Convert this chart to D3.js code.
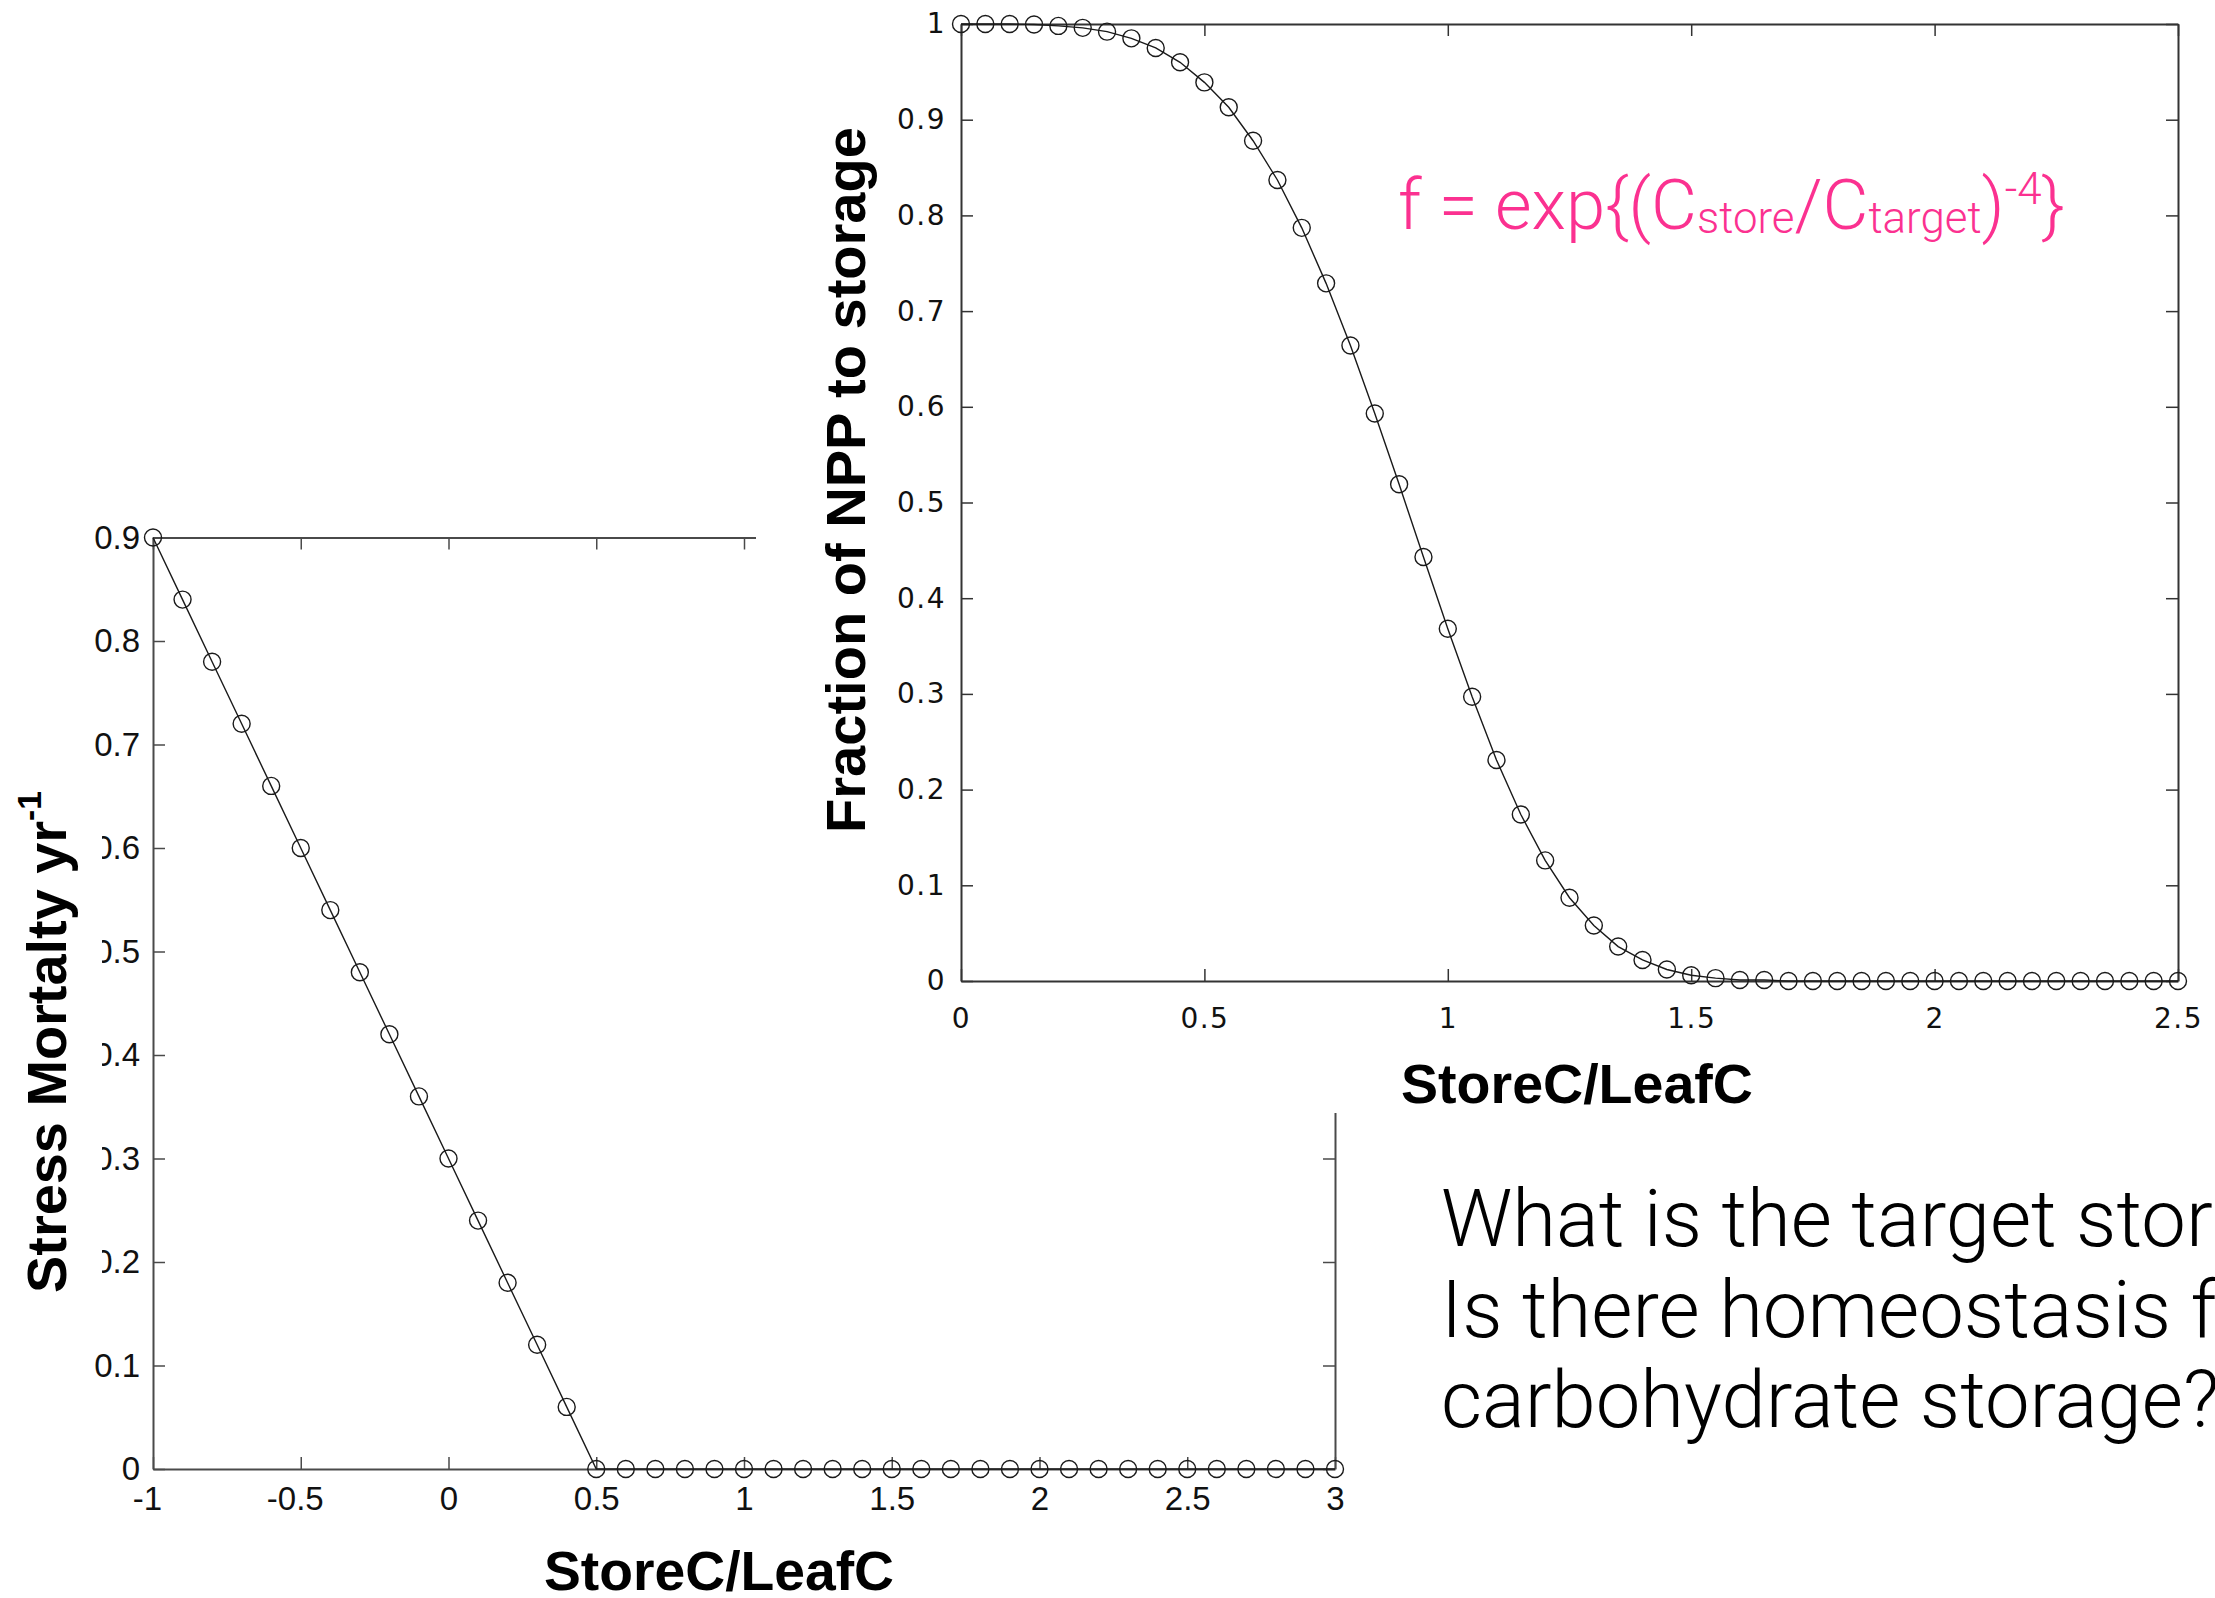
<!DOCTYPE html>
<html>
<head>
<meta charset="utf-8">
<script src="https://cdn.jsdelivr.net/npm/d3@7"></script>
<style>
  html, body { margin: 0; padding: 0; background: #fff; }
  svg { display: block; }
</style>
</head>
<body>
<div id="chart"></div>
<script>
// Stress mortality (left) and fraction of NPP to storage (right), both vs StoreC/LeafC

// --- left panel data
const stressX = [-1, -0.9, -0.8, -0.7, -0.6, -0.5, -0.4, -0.3, -0.2, -0.1, 0, 0.1, 0.2, 0.3, 0.4,
    0.5, 0.6, 0.7, 0.8, 0.9, 1, 1.1, 1.2, 1.3, 1.4, 1.5, 1.6, 1.7, 1.8, 1.9, 2,
    2.1, 2.2, 2.3, 2.4, 2.5, 2.6, 2.7, 2.8, 2.9, 3];
const stressY = [0.9, 0.84, 0.78, 0.72, 0.66, 0.6, 0.54, 0.48, 0.42, 0.36, 0.3, 0.24, 0.18, 0.12, 0.06,
    0, 0, 0, 0, 0, 0, 0, 0, 0, 0, 0, 0, 0, 0, 0, 0,
    0, 0, 0, 0, 0, 0, 0, 0, 0, 0];
const stressXTicks = [-1, -0.5, 0, 0.5, 1, 1.5, 2, 2.5, 3];
const stressYTicks = [0, 0.1, 0.2, 0.3, 0.4, 0.5, 0.6, 0.7, 0.8, 0.9];

// --- right panel data
const fracX = [0, 0.05, 0.1, 0.15, 0.2, 0.25, 0.3, 0.35, 0.4, 0.45, 0.5, 0.55, 0.6, 0.65, 0.7, 0.75,
    0.8, 0.85, 0.9, 0.95, 1, 1.05, 1.1, 1.15, 1.2, 1.25, 1.3, 1.35, 1.4, 1.45, 1.5, 1.55,
    1.6, 1.65, 1.7, 1.75, 1.8, 1.85, 1.9, 1.95, 2, 2.05, 2.1, 2.15, 2.2, 2.25, 2.3, 2.35,
    2.4, 2.45, 2.5];
const fracY = [1, 1, 1, 0.9995, 0.998, 0.996, 0.992, 0.985, 0.975, 0.96, 0.939, 0.913, 0.878, 0.837, 0.787, 0.729,
    0.664, 0.593, 0.519, 0.443, 0.368, 0.297, 0.231, 0.174, 0.126, 0.087, 0.058, 0.036, 0.022, 0.012, 0.006, 0.003,
    0.001, 0.001, 0, 0, 0, 0, 0, 0, 0, 0, 0, 0, 0, 0, 0, 0,
    0, 0, 0];
const fracXTicks = [0, 0.5, 1, 1.5, 2, 2.5];
const fracYTicks = [0, 0.1, 0.2, 0.3, 0.4, 0.5, 0.6, 0.7, 0.8, 0.9, 1];

// --- texts
const xLabel = "StoreC/LeafC";
const questionLines = ["What is the target storage?", "Is there homeostasis for", "carbohydrate storage?"];

const W = 2215, H = 1598;
const bold = "'Liberation Sans', Arial, Helvetica, sans-serif";
const light = "Roboto, Lato, 'Open Sans', sans-serif";

const svg = d3.select("#chart").append("svg")
    .attr("width", W)
    .attr("height", H);

svg.append("rect").attr("width", W).attr("height", H).attr("fill", "#fff");

// scales (pixel ranges fitted to the reference)
const xL = d3.scaleLinear().domain([-1, 3]).range([153, 1335]);
const yL = d3.scaleLinear().domain([0, 0.9]).range([1469, 537.5]);
const xR = d3.scaleLinear().domain([0, 2.5]).range([961, 2178]);
const yR = d3.scaleLinear().domain([0, 1]).range([981, 24]);

const fmt = d => String(+d.toFixed(2));

// MATLAB style box: ticks inside on all four sides, labels bottom/left only
function boxAxes(g, x, y, xt, yt, o) {
    const [x0, x1] = x.range();
    const [y0, y1] = y.range();

    g.append("g").attr("class", "xb").attr("transform", `translate(0,${y0})`)
        .call(d3.axisBottom(x).tickValues(xt).tickSizeInner(-o.tick).tickSizeOuter(0)
            .tickPadding(o.padX).tickFormat(fmt));
    g.append("g").attr("transform", `translate(0,${y1})`)
        .call(d3.axisTop(x).tickValues(xt).tickSizeInner(-o.tick).tickSizeOuter(0).tickFormat(""));
    g.append("g").attr("class", "yl").attr("transform", `translate(${x0},0)`)
        .call(d3.axisLeft(y).tickValues(yt).tickSizeInner(-o.tick).tickSizeOuter(0)
            .tickPadding(o.padY).tickFormat(fmt));
    g.append("g").attr("transform", `translate(${x1},0)`)
        .call(d3.axisRight(y).tickValues(yt).tickSizeInner(-o.tick).tickSizeOuter(0).tickFormat(""));

    g.selectAll(".domain").attr("stroke", o.color).attr("stroke-width", 2);
    g.selectAll(".tick line").attr("stroke", o.color).attr("stroke-width", 1.5);
    g.selectAll(".tick text")
        .attr("fill", "#111")
        .style("font-family", o.font)
        .style("font-size", o.fs + "px")
        .style("letter-spacing", (o.ls || 0) + "px");
}

function series(g, x, y, xs, ys) {
    const pts = xs.map((v, i) => [v, ys[i]]);
    g.append("path")
        .datum(pts)
        .attr("fill", "none")
        .attr("stroke", "#1a1a1a")
        .attr("stroke-width", 1.4)
        .attr("d", d3.line().x(d => x(d[0])).y(d => y(d[1])));
    g.selectAll("circle")
        .data(pts)
        .enter()
        .append("circle")
        .attr("cx", d => x(d[0]))
        .attr("cy", d => y(d[1]))
        .attr("r", 8.5)
        .attr("fill", "none")
        .attr("stroke", "#1a1a1a")
        .attr("stroke-width", 1.4);
}

// scale a text so its advance equals target width
function fitText(sel, target) {
    const w = sel.node().getComputedTextLength();
    const fs = parseFloat(sel.attr("font-size"));
    sel.attr("font-size", fs * target / w);
}

// ─────────────────────────────────────────────
// Left panel
// ─────────────────────────────────────────────
const left = svg.append("g");
boxAxes(left, xL, yL, stressXTicks, stressYTicks,
    { tick: 12, padX: 18, padY: 13, color: "#4a4a4a", font: bold, fs: 33 });
// MATLAB centres the digits, minus sign hangs left
left.selectAll(".xb .tick text").filter(d => d < 0).attr("dx", -6);
series(left, xL, yL, stressX, stressY);

// ─────────────────────────────────────────────
// Right panel sits on top (its white canvas hides part of the left box)
// ─────────────────────────────────────────────
svg.append("rect")
    .attr("x", 756).attr("y", 0)
    .attr("width", W - 756).attr("height", 1113)
    .attr("fill", "#fff");

const right = svg.append("g");
boxAxes(right, xR, yR, fracXTicks, fracYTicks,
    { tick: 12, padX: 27, padY: 15, color: "#333", font: "'DejaVu Sans', Verdana, sans-serif", fs: 28, ls: 1.5 });
series(right, xR, yR, fracX, fracY);

// ─────────────────────────────────────────────
// Axis labels
// ─────────────────────────────────────────────
// left y label has its own white box that clips the tick numbers
svg.append("rect")
    .attr("x", 0).attr("y", 790)
    .attr("width", 102).attr("height", 506)
    .attr("fill", "#fff");

const yl = svg.append("text")
    .attr("transform", "translate(66,1042) rotate(-90)")
    .attr("text-anchor", "middle")
    .attr("font-family", bold)
    .attr("font-weight", "bold")
    .attr("font-size", 56)
    .attr("fill", "#000");
yl.append("tspan").text("Stress Mortalty yr");
yl.append("tspan").attr("font-size", "0.6em").attr("dy", "-0.75em").text("-1");
fitText(yl, 502);

const yr = svg.append("text")
    .attr("transform", "translate(865,480) rotate(-90)")
    .attr("text-anchor", "middle")
    .attr("font-family", bold)
    .attr("font-weight", "bold")
    .attr("font-size", 56)
    .attr("fill", "#000")
    .text("Fraction of NPP to storage");
fitText(yr, 706);

const xlL = svg.append("text")
    .attr("x", 719).attr("y", 1590)
    .attr("text-anchor", "middle")
    .attr("font-family", bold)
    .attr("font-weight", "bold")
    .attr("font-size", 56)
    .attr("fill", "#000")
    .text(xLabel);
fitText(xlL, 350);

const xlR = svg.append("text")
    .attr("x", 1577).attr("y", 1103)
    .attr("text-anchor", "middle")
    .attr("font-family", bold)
    .attr("font-weight", "bold")
    .attr("font-size", 56)
    .attr("fill", "#000")
    .text(xLabel);
fitText(xlR, 352);

// ─────────────────────────────────────────────
// Formula (pink) and question
// ─────────────────────────────────────────────
const f = svg.append("text")
    .attr("x", 1398).attr("y", 229)
    .attr("font-family", light)
    .attr("font-weight", 300)
    .attr("font-size", 68)
    .attr("fill", "#fb3190");
f.append("tspan").text("f = exp{(C");
f.append("tspan").attr("font-size", "0.62em").attr("dy", "0.1em").text("store");
f.append("tspan").attr("dy", "-0.062em").text("/C");
f.append("tspan").attr("font-size", "0.62em").attr("dy", "0.1em").text("target");
f.append("tspan").attr("dy", "-0.062em").text(")");
f.append("tspan").attr("font-size", "0.62em").attr("dy", "-0.565em").text("-4");
f.append("tspan").attr("dy", "0.35em").text("}");
fitText(f, 667);

// font size from the full third line, then apply to all
const probe = svg.append("text")
    .attr("font-family", light)
    .attr("font-weight", 300)
    .attr("font-size", 74)
    .text("carbohydrate storage");
fitText(probe, 742);
const qSize = +probe.attr("font-size");
probe.remove();

svg.selectAll(".q")
    .data(questionLines)
    .enter()
    .append("text")
    .attr("class", "q")
    .attr("x", 1441)
    .attr("y", (d, i) => 1246 + i * 90.5)
    .attr("font-family", light)
    .attr("font-weight", 300)
    .attr("font-size", qSize)
    .attr("fill", "#000")
    .text(d => d);
</script>
</body>
</html>
